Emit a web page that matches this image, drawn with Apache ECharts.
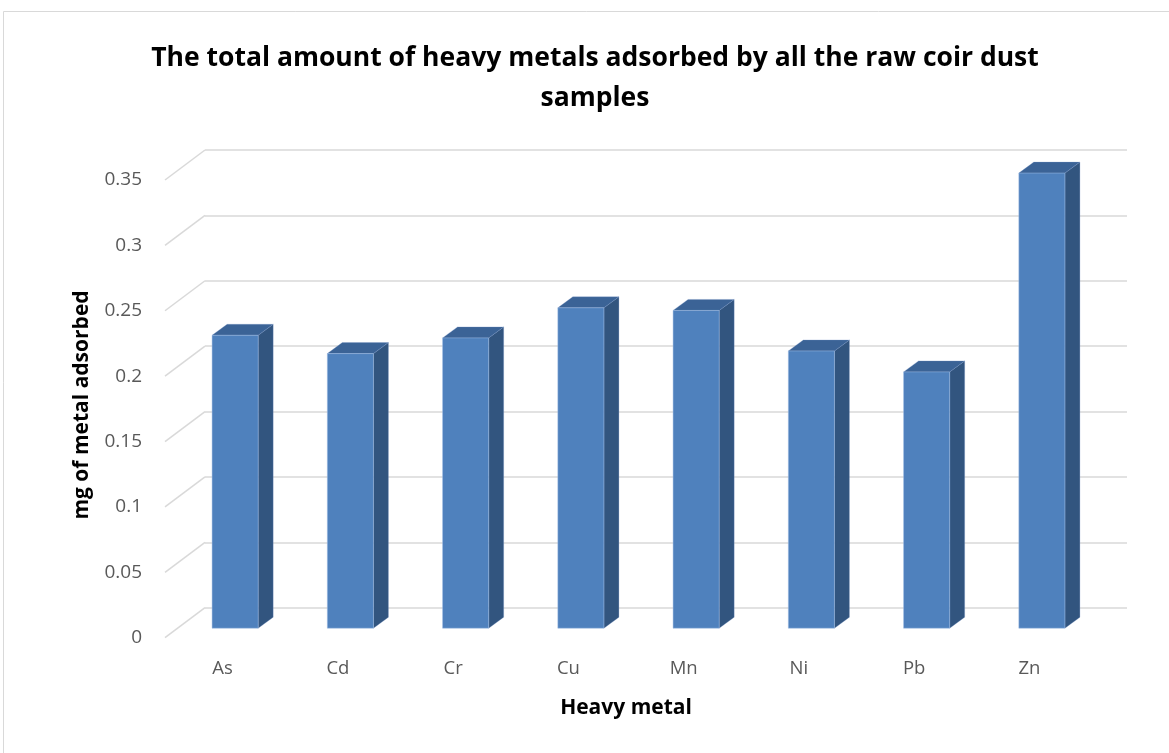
<!DOCTYPE html>
<html>
<head>
<meta charset="utf-8">
<script src="https://cdn.jsdelivr.net/npm/echarts@6/dist/echarts.min.js"></script>
<style>
  html, body { margin: 0; padding: 0; background: #ffffff; }
  #chart { width: 1169px; height: 753px; }
</style>
</head>
<body>
<div id="chart"></div>
<script>
// Heavy metal uptake by raw coir dust (mg)
const metals = ['As', 'Cd', 'Cr', 'Cu', 'Mn', 'Ni', 'Pb', 'Zn'];
const adsorbed = [0.224, 0.210, 0.222, 0.245, 0.243, 0.212, 0.196, 0.348];
const yTicks = [0, 0.05, 0.1, 0.15, 0.2, 0.25, 0.3, 0.35];

const chartTitle = 'The total amount of heavy metals adsorbed by all the raw coir dust\nsamples';
const xTitle = 'Heavy metal';
const yTitle = 'mg of metal adsorbed';

const FONT = '"Open Sans", "Liberation Sans", sans-serif';

// Oblique depth of the back wall relative to the front plane
const WALL_DX = 40, WALL_DY = -30;
// Column placement inside the depth and column thickness
const BAR_OX = 12.5, BAR_OY = -9.5;
const BAR_DX = 15, BAR_DY = -11;

const chart = echarts.init(document.getElementById('chart'), null, { renderer: 'canvas' });

function renderColumn(params, api) {
  const i = api.value(0);
  const v = api.value(1);
  const base = api.coord([i, 0]);
  const top = api.coord([i, v]);
  const w = api.size([1, 0])[0] * 0.4;
  const x0 = base[0] - w / 2 + BAR_OX;
  const x1 = x0 + w;
  const yb = base[1] + BAR_OY;
  const yt = top[1] + BAR_OY;
  return {
    type: 'group',
    children: [
      {
        type: 'polygon',
        shape: { points: [[x1, yt], [x1 + BAR_DX, yt + BAR_DY], [x1 + BAR_DX, yb + BAR_DY], [x1, yb]] },
        style: { fill: '#32557F', stroke: 'rgba(120,150,200,0.35)', lineWidth: 0.8 }
      },
      {
        type: 'polygon',
        shape: { points: [[x0, yt], [x0 + BAR_DX, yt + BAR_DY], [x1 + BAR_DX, yt + BAR_DY], [x1, yt]] },
        style: { fill: '#3B6396', stroke: 'rgba(120,150,200,0.35)', lineWidth: 0.8 }
      },
      {
        type: 'rect',
        shape: { x: x0, y: yt, width: w, height: yb - yt },
        style: { fill: '#4F81BD', stroke: 'rgba(160,190,230,0.6)', lineWidth: 0.8 }
      }
    ]
  };
}

function renderSideGrid(params, api) {
  const v = api.value(0);
  const p = api.coord([0, v]);
  const x = params.coordSys.x;
  return {
    type: 'line',
    shape: { x1: x, y1: p[1], x2: x + WALL_DX, y2: p[1] + WALL_DY },
    style: { stroke: '#D9D9D9', lineWidth: 1.5 }
  };
}

const option = {
  backgroundColor: '#ffffff',
  animation: false,
  title: {
    text: chartTitle,
    left: 590,
    top: 33,
    textAlign: 'center',
    textStyle: {
      fontFamily: FONT,
      fontWeight: 'bold',
      fontSize: 26.5,
      lineHeight: 40,
      color: '#000000'
    }
  },
  graphic: [
    {
      type: 'rect',
      z: -10,
      shape: { x: 3.5, y: 11.5, width: 1200, height: 800 },
      style: { fill: 'none', stroke: '#D9D9D9', lineWidth: 1 }
    },
    {
      type: 'text',
      x: 626, y: 708,
      style: {
        text: xTitle,
        textAlign: 'center', textVerticalAlign: 'middle',
        font: 'bold 21px ' + FONT,
        fill: '#000000'
      }
    },
    {
      type: 'text',
      x: 82, y: 405,
      rotation: Math.PI / 2,
      style: {
        text: yTitle,
        textAlign: 'center', textVerticalAlign: 'middle',
        font: 'bold 21px ' + FONT,
        fill: '#000000'
      }
    }
  ],
  grid: [
    // front plane: category labels and value labels
    { left: 165, right: 82, top: 180, bottom: 115.3 },
    // back wall: horizontal gridlines
    { left: 205, right: 42, top: 150, bottom: 145.3 }
  ],
  xAxis: [
    {
      type: 'category',
      gridIndex: 0,
      data: metals,
      axisLine: { show: false },
      axisTick: { show: false },
      axisLabel: { margin: 22, fontFamily: FONT, fontSize: 18.5, color: '#595959' }
    },
    {
      type: 'category',
      gridIndex: 1,
      data: metals,
      show: false
    }
  ],
  yAxis: [
    {
      type: 'value',
      gridIndex: 0,
      min: 0, max: 0.35, interval: 0.05,
      axisLine: { show: false },
      axisTick: { show: false },
      splitLine: { show: false },
      axisLabel: { margin: 23, fontFamily: FONT, fontSize: 19, color: '#595959' }
    },
    {
      type: 'value',
      gridIndex: 1,
      min: 0, max: 0.35, interval: 0.05,
      axisLine: { show: false },
      axisTick: { show: false },
      axisLabel: { show: false },
      splitLine: { show: true, lineStyle: { color: '#D9D9D9', width: 1.5 } }
    }
  ],
  series: [
    {
      type: 'custom',
      name: 'side wall',
      xAxisIndex: 0, yAxisIndex: 0,
      renderItem: renderSideGrid,
      data: yTicks.map(v => [v]),
      clip: false,
      silent: true,
      z: 1
    },
    {
      type: 'custom',
      name: 'mg of metal adsorbed',
      xAxisIndex: 0, yAxisIndex: 0,
      renderItem: renderColumn,
      data: adsorbed.map((v, i) => [i, v]),
      clip: false,
      z: 3
    }
  ]
};

chart.setOption(option);
</script>
</body>
</html>
